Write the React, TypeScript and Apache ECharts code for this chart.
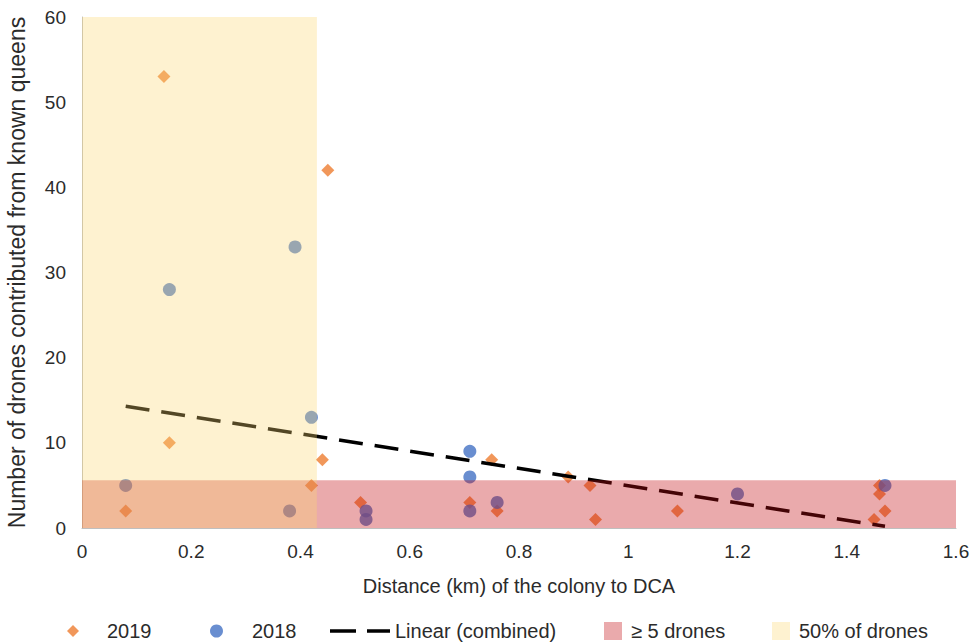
import React, { useEffect, useRef } from "react";
import * as echarts from "echarts";

// 2019 colonies: distance (km) and number of drones
const x2019 = [0.08, 0.15, 0.16, 0.42, 0.44, 0.45, 0.51, 0.71, 0.75, 0.76, 0.89, 0.93, 0.94, 1.09, 1.45, 1.46, 1.46, 1.47];
const y2019 = [2, 53, 10, 5, 8, 42, 3, 3, 8, 2, 6, 5, 1, 2, 1, 5, 4, 2];
// 2018 colonies
const x2018 = [0.08, 0.16, 0.38, 0.39, 0.42, 0.52, 0.52, 0.71, 0.71, 0.71, 0.76, 1.2, 1.47];
const y2018 = [5, 28, 2, 33, 13, 2, 1, 9, 6, 2, 3, 4, 5];
// Linear trend (combined), end points
const trendX = [0.08, 1.47];
const trendY = [14.3, 0.2];
// Shaded areas: [x0, x1, y0, y1]
const dronesBox = [0, 1.6, 0, 5.6];
const halfBox = [0, 0.43, 0, 60];

const FONT = "'Liberation Sans', Arial, sans-serif";
const TXT = "#2b2b2b";

const zip = (xs: number[], ys: number[]) => xs.map((x, i) => [x, ys[i]]);

const boxRender = (params: any, api: any) => {
  const p0 = api.coord([api.value(0), api.value(3)]);
  const p1 = api.coord([api.value(1), api.value(2)]);
  return {
    type: "rect",
    shape: { x: p0[0], y: p0[1], width: p1[0] - p0[0], height: p1[1] - p0[1] },
    style: api.style(),
  };
};

const legendBase = {
  top: 621,
  padding: 0,
  selectedMode: false,
  textStyle: { fontSize: 20, color: TXT, fontFamily: FONT },
};

export default function App() {
  const ref = useRef<HTMLDivElement>(null);
  useEffect(() => {
    const chart = echarts.init(ref.current!, null, { renderer: "svg" });
    chart.setOption({
      animation: false,
      backgroundColor: "#ffffff",
      textStyle: { fontFamily: FONT },
      grid: { left: 82, right: 20, top: 17, bottom: 116, containLabel: false, outerBoundsMode: "none" },
      xAxis: {
        type: "value",
        min: 0,
        max: 1.6,
        interval: 0.2,
        axisLine: { show: true, lineStyle: { color: "#BFBFBF", width: 1 } },
        axisTick: { show: false },
        splitLine: { show: false },
        axisLabel: { fontSize: 19, color: TXT, margin: 14, fontFamily: FONT },
        name: "Distance (km) of the colony to DCA",
        nameLocation: "middle",
        nameGap: 48,
        nameTextStyle: { fontSize: 20, color: TXT, fontFamily: FONT },
      },
      yAxis: {
        type: "value",
        min: 0,
        max: 60,
        interval: 10,
        axisLine: { show: true, lineStyle: { color: "#BFBFBF", width: 1 } },
        axisTick: { show: false },
        splitLine: { show: false },
        axisLabel: { fontSize: 19, color: TXT, margin: 16, fontFamily: FONT },
        name: "Number of drones contributed from known queens",
        nameLocation: "middle",
        nameGap: 54,
        nameTextStyle: { fontSize: 23, color: TXT, fontFamily: FONT },
      },
      legend: [
        { ...legendBase, left: 67, itemWidth: 58, itemHeight: 12, data: [{ name: "2019", icon: "path://M0,-1L1,0L0,1L-1,0Z" }] },
        { ...legendBase, left: 210, itemWidth: 61, itemHeight: 13, data: [{ name: "2018", icon: "circle" }] },
        {
          ...legendBase,
          left: 330,
          itemWidth: 60,
          itemHeight: 3.5,
          data: [{ name: "Linear (combined)", icon: "path://M0,0H26V3.5H0ZM37,0H60V3.5H37Z" }],
        },
        { ...legendBase, left: 604, itemWidth: 26, itemHeight: 18, data: [{ name: "≥ 5 drones", icon: "path://M0,0H1V1H0Z" }] },
        { ...legendBase, left: 772, itemWidth: 26, itemHeight: 18, data: [{ name: "50% of drones", icon: "path://M0,0H1V1H0Z" }] },
      ],
      series: [
        {
          name: "2019",
          type: "scatter",
          symbol: "diamond",
          symbolSize: 13,
          z: 2,
          itemStyle: { color: "#ED7D31" },
          data: zip(x2019, y2019),
        },
        {
          name: "2018",
          type: "scatter",
          symbol: "circle",
          symbolSize: 13,
          z: 2,
          itemStyle: { color: "#4472C4" },
          data: zip(x2018, y2018),
        },
        {
          name: "Linear (combined)",
          type: "line",
          symbol: "none",
          z: 3,
          itemStyle: { color: "#000000" },
          lineStyle: { color: "#000000", width: 3.5, type: [24, 12] },
          data: zip(trendX, trendY),
        },
        {
          name: "≥ 5 drones",
          type: "custom",
          z: 5,
          renderItem: boxRender,
          encode: { x: [0, 1], y: [2, 3] },
          itemStyle: { color: "rgba(195,12,18,0.35)" },
          data: [dronesBox],
        },
        {
          name: "50% of drones",
          type: "custom",
          z: 6,
          renderItem: boxRender,
          encode: { x: [0, 1], y: [2, 3] },
          itemStyle: { color: "rgba(252,215,112,0.33)" },
          data: [halfBox],
        },
      ],
    });
    return () => chart.dispose();
  }, []);
  return <div ref={ref} style={{ position: "absolute", left: 0, top: 0, width: 976, height: 644 }} />;
}
